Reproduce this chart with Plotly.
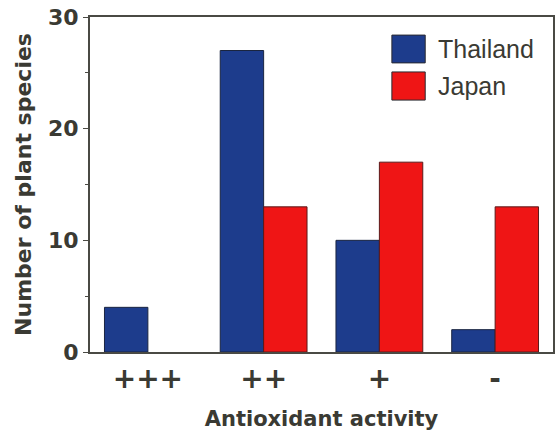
import plotly.graph_objects as go

categories = ["+++", "++", "+", "-"]
series_names = ["Thailand", "Japan"]
thailand = [4, 27, 10, 2]
japan = [0, 13, 17, 13]

blue = "#1d3c8c"
red = "#ef1515"
font_family = "DejaVu Sans, Liberation Sans, Arial, sans-serif"
text_col = "#3a3a33"
axis_col = "#4a4a44"

fig = go.Figure()
fig.add_trace(go.Bar(name=series_names[0], x=categories, y=thailand, showlegend=False,
                     marker=dict(color=blue, line=dict(color="#1a2540", width=1))))
fig.add_trace(go.Bar(name=series_names[1], x=categories, y=japan, showlegend=False,
                     marker=dict(color=red, line=dict(color="#5a1a1a",
                                                      width=[0 if v == 0 else 1 for v in japan]))))

# custom legend (large swatches like the reference)
legend_items = [(series_names[0], blue, 0.946, 0.863), (series_names[1], red, 0.836, 0.752)]
for name, col, y1, y0 in legend_items:
    fig.add_shape(type="rect", xref="paper", yref="paper", x0=0.652, x1=0.724, y0=y0, y1=y1,
                  fillcolor=col, line=dict(color="#2a2a30", width=1))
    fig.add_annotation(xref="paper", yref="paper", x=0.748, y=(y0 + y1) / 2, text=name,
                       showarrow=False, xanchor="left", yanchor="middle",
                       font=dict(size=25, family="Liberation Sans, Arial, sans-serif", color=text_col))

fig.update_layout(
    width=556, height=439,
    margin=dict(l=90, r=3, t=17, b=87, autoexpand=False),
    paper_bgcolor="white", plot_bgcolor="white",
    barmode="group", bargap=0.25, bargroupgap=0,
    font=dict(family=font_family, color=text_col),
    xaxis=dict(showline=True, linecolor=axis_col, linewidth=2, mirror=True, automargin=False,
               ticks="", tickfont=dict(size=28, family=font_family, color=text_col, weight="bold"),
               title=dict(text="<b>Antioxidant activity</b>", font=dict(size=21, color=text_col), standoff=18)),
    yaxis=dict(range=[0, 30], tickvals=[0, 10, 20, 30], showline=True, linecolor=axis_col, linewidth=2,
               mirror=True, ticks="outside", ticklen=5, tickcolor=axis_col, showgrid=False, zeroline=False,
               ticklabeloverflow="allow", automargin=False,
               minor=dict(tickvals=[5, 15, 25], ticks="outside", ticklen=3, tickcolor=axis_col),
               tickfont=dict(size=22, family=font_family, color=text_col, weight="bold"),
               title=dict(text="<b>Number of plant species</b>", font=dict(size=22, color=text_col), standoff=10)),
)

fig.write_html("out.html", config={"displayModeBar": False},
               post_script="document.body.style.margin='0';document.body.style.overflow='hidden';")
